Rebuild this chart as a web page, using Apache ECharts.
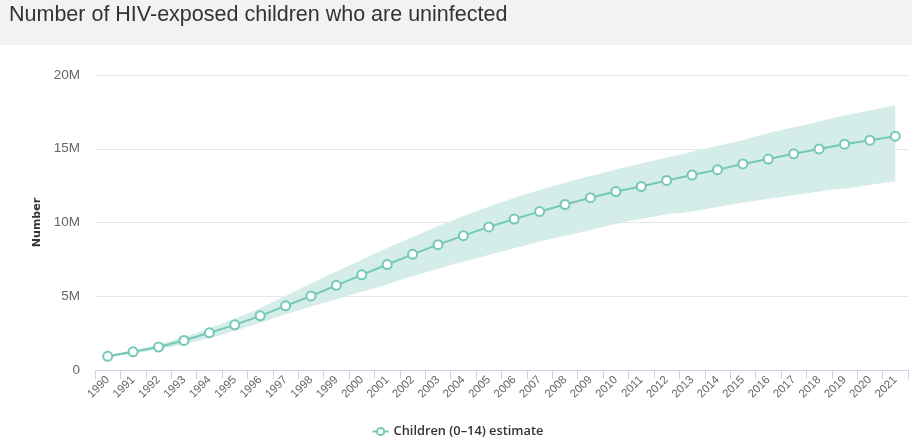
<!DOCTYPE html>
<html>
<head>
<meta charset="utf-8">
<script src="https://cdn.jsdelivr.net/npm/echarts@6/dist/echarts.min.js"></script>
<style>
html,body{margin:0;padding:0;background:#fff;}
#chart{width:915px;height:445px;}
</style>
</head>
<body>
<div id="chart"></div>
<script>
const years = ['1990','1991','1992','1993','1994','1995','1996','1997','1998','1999','2000','2001','2002','2003','2004','2005','2006','2007','2008','2009','2010','2011','2012','2013','2014','2015','2016','2017','2018','2019','2020','2021'];
const estimate = [0.93,1.23,1.56,2.0,2.52,3.06,3.67,4.35,5.02,5.74,6.45,7.15,7.84,8.5,9.11,9.7,10.23,10.74,11.22,11.68,12.1,12.44,12.85,13.22,13.58,13.97,14.3,14.66,14.99,15.31,15.58,15.85].map(v => v * 1e6);
const upper = [1.0,1.34,1.74,2.25,2.82,3.47,4.2,5.03,5.86,6.68,7.48,8.27,9.02,9.75,10.43,11.07,11.66,12.2,12.7,13.15,13.6,14.0,14.4,14.8,15.2,15.6,16.05,16.45,16.85,17.25,17.6,17.95].map(v => v * 1e6);
const lower = [0.84,1.1,1.4,1.75,2.17,2.66,3.2,3.76,4.3,4.8,5.3,5.8,6.35,6.85,7.35,7.8,8.25,8.7,9.1,9.5,9.9,10.25,10.55,10.75,11.05,11.35,11.6,11.85,12.1,12.3,12.55,12.8].map(v => v * 1e6);
const yTicks = [0, 5e6, 10e6, 15e6, 20e6];
const seriesName = 'Children (0–14) estimate';
const titleText = 'Number of HIV-exposed children who are uninfected';

const lineColor = '#74c8b7';
const chart = echarts.init(document.getElementById('chart'));
chart.setOption({
  animation: false,
  graphic: [{
    type: 'rect', left: 0, top: 0, z: -10,
    shape: { width: 912, height: 45 },
    style: { fill: '#f2f2f2' }
  }],
  title: {
    text: titleText, left: 9, top: 4, padding: 0,
    textStyle: { fontFamily: 'Liberation Sans, Arial, sans-serif', fontSize: 21.5, fontWeight: 'normal', color: '#333' }
  },
  legend: {
    data: [seriesName], bottom: 2, left: 'center',
    itemWidth: 16, itemHeight: 9, itemGap: 5,
    textStyle: { fontFamily: 'Open Sans, sans-serif', fontSize: 12.8, fontWeight: 600, color: '#333' }
  },
  grid: { left: 95, right: 7, top: 75, bottom: 75, containLabel: false },
  xAxis: {
    type: 'category', data: years, boundaryGap: true,
    axisLine: { lineStyle: { color: '#ccd6eb', width: 1 } },
    axisTick: { show: true, length: 9, alignWithLabel: false, lineStyle: { color: '#ccd6eb' } },
    axisLabel: { rotate: 45, interval: 0, fontFamily: 'Liberation Sans, Arial, sans-serif', fontSize: 11.5, color: '#666', margin: 8 },
    splitLine: { show: false }
  },
  yAxis: {
    type: 'value', min: 0, max: 20e6, interval: 5e6,
    name: 'Number', nameLocation: 'middle', nameGap: 47, nameRotate: 90,
    nameTextStyle: { fontFamily: 'DejaVu Sans, sans-serif', fontSize: 11, fontWeight: 'bold', color: '#333' },
    axisLine: { show: false }, axisTick: { show: false },
    axisLabel: {
      fontFamily: 'Liberation Sans, Arial, sans-serif', fontSize: 13.5, color: '#666', margin: 15,
      formatter: v => v === 0 ? '0' : (v / 1e6) + 'M'
    },
    splitLine: { lineStyle: { color: '#e6e6e6', width: 1 } }
  },
  series: [
    {
      name: 'lower', type: 'line', data: lower, stack: 'band', smooth: true,
      symbol: 'none', lineStyle: { opacity: 0 }, silent: true, z: 1
    },
    {
      name: 'band', type: 'line', data: upper.map((u, i) => u - lower[i]), stack: 'band', smooth: true,
      symbol: 'none', lineStyle: { opacity: 0 }, areaStyle: { color: '#d5ede8', opacity: 1 }, silent: true, z: 1
    },
    {
      name: seriesName, type: 'line', data: estimate, z: 5,
      symbol: 'circle', symbolSize: 9,
      itemStyle: { color: '#ffffff', borderColor: lineColor, borderWidth: 2 },
      lineStyle: { color: lineColor, width: 2 }
    }
  ]
});
</script>
</body>
</html>
